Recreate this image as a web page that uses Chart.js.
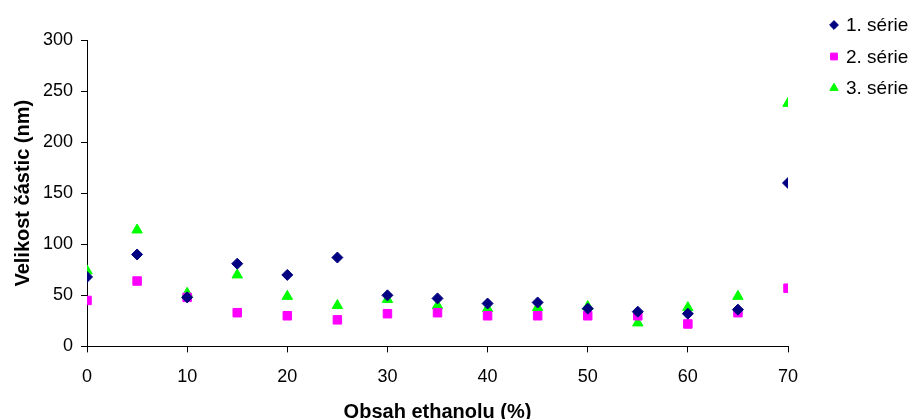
<!DOCTYPE html>
<html>
<head>
<meta charset="utf-8">
<script src="https://cdn.jsdelivr.net/npm/chart.js@4.4.1/dist/chart.umd.min.js"></script>
<style>
	html, body { margin: 0; padding: 0; background: #fff; }
	#wrap { width: 914px; height: 419px; position: relative; }
</style>
</head>
<body>
<div id="wrap"><canvas id="particleChart"></canvas></div>
<script>
var ethanol = [0, 5, 10, 15, 20, 25, 30, 35, 40, 45, 50, 55, 60, 65, 70];
var serie1 = [68, 90, 48, 81, 70, 87, 50, 47, 42, 43, 37, 34, 32, 36, 160];
var serie2 = [45, 64, 48, 33, 30, 26, 32, 33, 30, 30, 30, 30, 22, 33, 57];
var serie3 = [74, 114, 52, 70, 49, 40, 46, 40, 37, 38, 39, 23, 38, 49, 238];
var seriesNames = ['1. série', '2. série', '3. série'];

function toPoints(values) {
	var pts = [];
	for (var i = 0; i < ethanol.length; i++) {
		pts.push({ x: ethanol[i], y: values[i] });
	}
	return pts;
}

var font = "'Liberation Sans', Arial, sans-serif";

// legend drawn by hand in the top right corner
var sideLegend = {
	id: 'sideLegend',
	afterDraw: function (chart) {
		var ctx = chart.ctx;
		ctx.save();
		ctx.font = '19px ' + font;
		ctx.textBaseline = 'middle';
		chart.data.datasets.forEach(function (ds, i) {
			var y = 25 + i * 31.5;
			ctx.fillStyle = ds.backgroundColor;
			ctx.strokeStyle = ds.borderColor;
			Chart.helpers.drawPoint(ctx, {
				pointStyle: ds.pointStyle,
				radius: ds.pointRadius * 0.8,
				borderWidth: 1,
				rotation: 0
			}, 834, y);
			ctx.fillStyle = '#000';
			ctx.fillText(ds.label, 846, y + 1);
		});
		ctx.restore();
	}
};

var ctx = document.getElementById('particleChart').getContext('2d');
var myChart = new Chart(ctx, {
	type: 'scatter',
	data: {
		datasets: [{
			label: seriesNames[0],
			data: toPoints(serie1),
			pointStyle: 'rectRot',
			pointRadius: 5.5,
			backgroundColor: '#000080',
			borderColor: '#000080',
			borderWidth: 1
		}, {
			label: seriesNames[1],
			data: toPoints(serie2),
			pointStyle: 'rect',
			pointRadius: 6,
			backgroundColor: '#FF00FF',
			borderColor: '#FF00FF',
			borderWidth: 1
		}, {
			label: seriesNames[2],
			data: toPoints(serie3),
			pointStyle: 'triangle',
			pointRadius: 6,
			backgroundColor: '#00FF00',
			borderColor: '#00FF00',
			borderWidth: 1
		}]
	},
	options: {
		responsive: true,
		maintainAspectRatio: false,
		animation: false,
		layout: {
			padding: { left: 11, top: 40, right: 126, bottom: -3 }
		},
		scales: {
			x: {
				type: 'linear',
				min: 0,
				max: 70,
				border: { color: '#000', width: 1 },
				grid: {
					drawOnChartArea: false,
					drawTicks: true,
					tickLength: 6,
					color: '#000'
				},
				ticks: {
					stepSize: 10,
					color: '#000',
					padding: 14,
					maxRotation: 0,
					font: { family: font, size: 18 }
				},
				title: {
					display: true,
					text: 'Obsah ethanolu (%)',
					color: '#000',
					padding: { top: 0, bottom: 0 },
					font: { family: font, size: 20, weight: 'bold', lineHeight: 1 }
				}
			},
			y: {
				min: 0,
				max: 300,
				border: { color: '#000', width: 1 },
				grid: {
					drawOnChartArea: false,
					drawTicks: true,
					tickLength: 6,
					color: '#000'
				},
				ticks: {
					stepSize: 50,
					color: '#000',
					padding: 8,
					font: { family: font, size: 18 }
				},
				title: {
					display: true,
					text: 'Velikost částic (nm)',
					color: '#000',
					padding: { top: 0, bottom: 0 },
					font: { family: font, size: 20, weight: 'bold' }
				}
			}
		},
		plugins: {
			legend: { display: false },
			tooltip: { enabled: false }
		}
	},
	plugins: [sideLegend]
});
</script>
</body>
</html>
